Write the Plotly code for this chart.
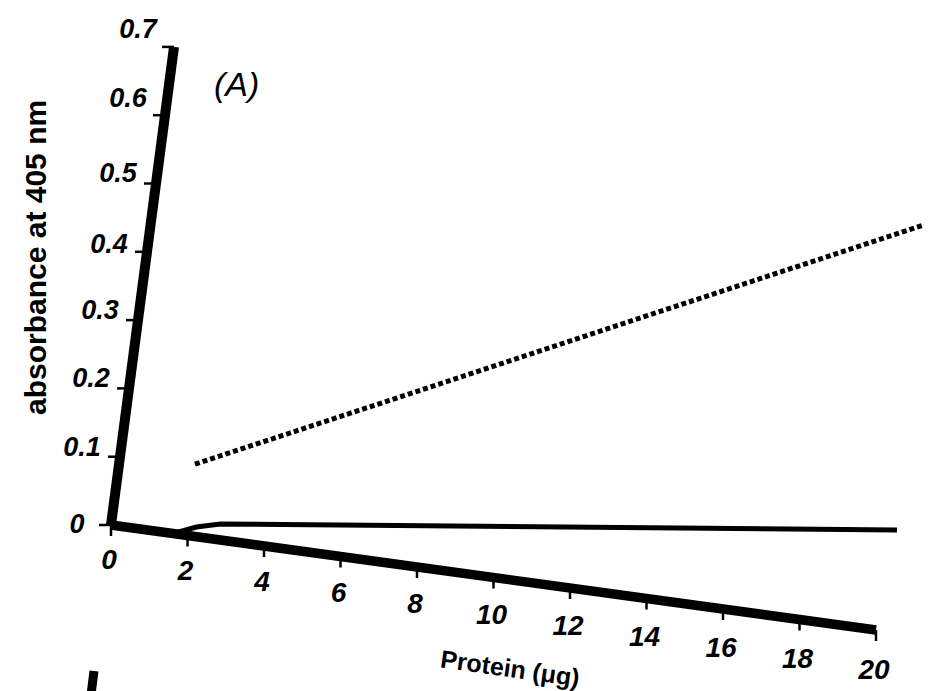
import plotly.graph_objects as go

# ---------------- data (in chart units) ----------------
x_ticks = [0, 2, 4, 6, 8, 10, 12, 14, 16, 18, 20]
x_tick_labels = ["0", "2", "4", "6", "8", "10", "12", "14", "16", "18", "20"]
y_ticks = [0, 0.1, 0.2, 0.3, 0.4, 0.5, 0.6, 0.7]
y_tick_labels = ["0", "0.1", "0.2", "0.3", "0.4", "0.5", "0.6", "0.7"]

dotted_x = [1.95, 20.15]
dotted_y = [0.104, 0.60]

solid_x = [1.7, 2.2, 2.8, 10.2, 20.2]
solid_y = [0.002, 0.014, 0.023, 0.0755, 0.148]

x_title = "Protein (μg)"
y_title = "absorbance at 405 nm"
panel_label = "(A)"

# ------------- skewed (scanned) axis frame -------------
W, H = 931, 691
ORIGIN = (103.0, 517.0)
EX = (38.25, 5.25)     # page displacement per 1 µg
EY = (90.0, -683.0)    # page displacement per 1 absorbance unit

# label nudges (page pixels), style only
Y_LABEL_DX = [-34, -38, -38, -38, -38, -38, -37, -36]
Y_LABEL_DY = [1, -7, -8, -8, -6, -8, -15, -16]


def T(xs, ys):
    px = [ORIGIN[0] + a * EX[0] + b * EY[0] for a, b in zip(xs, ys)]
    py = [ORIGIN[1] + a * EX[1] + b * EY[1] for a, b in zip(xs, ys)]
    return px, py


FONT = "Liberation Sans, Arial, Helvetica, sans-serif"
fig = go.Figure()

# data lines
sx, sy = T(solid_x, solid_y)
fig.add_trace(go.Scatter(x=sx, y=sy, mode="lines",
                         line=dict(color="black", width=5), hoverinfo="skip"))
dx, dy = T(dotted_x, dotted_y)
fig.add_trace(go.Scatter(x=dx, y=dy, mode="lines",
                         line=dict(color="black", width=5, dash="5px,3px"),
                         hoverinfo="skip"))

# axis lines
ax, ay = T([0, x_ticks[-1]], [0, 0])
fig.add_trace(go.Scatter(x=ax, y=ay, mode="lines",
                         line=dict(color="black", width=9.5), hoverinfo="skip"))
bx, by = T([0, 0], [0, y_ticks[-1]])
fig.add_trace(go.Scatter(x=bx, y=by, mode="lines",
                         line=dict(color="black", width=10), hoverinfo="skip"))

# tick marks
tx, ty = T(x_ticks, [0] * len(x_ticks))
kx, ky = [], []
for px, py in zip(tx, ty):
    kx += [px, px, None]
    ky += [py, py + 11, None]
yx, yy = T([0] * len(y_ticks), y_ticks)
for px, py in zip(yx, yy):
    kx += [px, px - 12, None]
    ky += [py, py, None]
fig.add_trace(go.Scatter(x=kx, y=ky, mode="lines",
                         line=dict(color="black", width=2.5), hoverinfo="skip"))

# tick labels
fig.add_trace(go.Scatter(
    x=[px - 2 for px in tx],
    y=[py + 37 + 0.25 * v for py, v in zip(ty, x_ticks)],
    mode="text", text=x_tick_labels, textposition="middle center",
    textfont=dict(family=FONT, size=28, color="black", weight="bold", style="italic"),
    hoverinfo="skip"))
fig.add_trace(go.Scatter(
    x=[px + d for px, d in zip(yx, Y_LABEL_DX)],
    y=[py + d for py, d in zip(yy, Y_LABEL_DY)],
    mode="text", text=y_tick_labels, textposition="middle center",
    textfont=dict(family=FONT, size=27, color="black", weight="bold", style="italic"),
    hoverinfo="skip"))

# titles / labels
fig.add_annotation(x=27, y=250, xref="x", yref="y", text=y_title, textangle=-90,
                   showarrow=False,
                   font=dict(family=FONT, size=30, color="black", weight="bold"))
fig.add_annotation(x=502, y=660, xref="x", yref="y", text=x_title, textangle=8,
                   showarrow=False,
                   font=dict(family=FONT, size=25, color="black", weight="bold"))
fig.add_annotation(x=228, y=76, xref="x", yref="y", text=panel_label,
                   showarrow=False,
                   font=dict(family=FONT, size=34, color="black", style="italic"))

# fragment of the next panel's axis at the bottom edge
fig.add_shape(type="line", x0=86, y0=663, x1=82, y1=695, xref="x", yref="y",
              line=dict(color="black", width=9))

fig.update_layout(
    width=W, height=H, autosize=False,
    margin=dict(l=0, r=0, t=0, b=0),
    paper_bgcolor="white", plot_bgcolor="white",
    showlegend=False,
    xaxis=dict(range=[0, W], visible=False, fixedrange=True),
    yaxis=dict(range=[H, 0], visible=False, fixedrange=True),
)

fig.write_html("out.html")
